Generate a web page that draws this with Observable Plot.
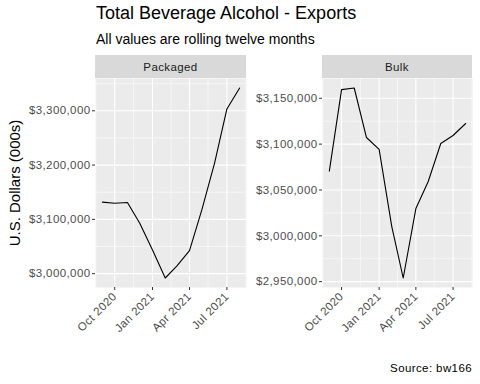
<!DOCTYPE html>
<html>
<head>
<meta charset="utf-8">
<script src="https://cdn.jsdelivr.net/npm/d3@7"></script>
<script src="https://cdn.jsdelivr.net/npm/@observablehq/plot@0.6"></script>
<style>
  html, body { margin: 0; padding: 0; background: #fff; }
  #chart { position: relative; width: 480px; height: 384px; font-family: "Liberation Sans", Arial, sans-serif; overflow: hidden; }
  .abs { position: absolute; white-space: nowrap; line-height: 1; }
  .strip { position: absolute; background: #d9d9d9; color: #1a1a1a; font-size: 11.5px; letter-spacing: 0.4px; display: flex; align-items: center; justify-content: center; }
  svg { overflow: visible; }
</style>
</head>
<body>
<div id="chart"></div>
<script>
// ---- data ----
const months = ["2020-09-01","2020-10-01","2020-11-01","2020-12-01","2021-01-01","2021-02-01",
                "2021-03-01","2021-04-01","2021-05-01","2021-06-01","2021-07-01","2021-08-01"];
const packaged = [3131700, 3129800, 3131000, 3092900, 3043700, 2992000,
                  3014000, 3042500, 3117500, 3203700, 3303400, 3342000];
const bulk = [3070600, 3159400, 3161200, 3107200, 3094200, 3010100,
              2954000, 3029700, 3059000, 3100700, 3109400, 3122500];
const xTicks = ["2020-10-01","2021-01-01","2021-04-01","2021-07-01"];
const xMinor = ["2020-08-16","2020-11-16","2021-02-15","2021-05-16","2021-08-16"];
const packagedTicks = [3000000, 3100000, 3200000, 3300000];
const packagedMinor = [3050000, 3150000, 3250000, 3350000];
const bulkTicks = [2950000, 3000000, 3050000, 3100000, 3150000];
const bulkMinor = [2975000, 3025000, 3075000, 3125000];
const titleText = "Total Beverage Alcohol - Exports";
const subtitleText = "All values are rolling twelve months";
const yLabel = "U.S. Dollars (000s)";
const captionText = "Source: bw166";
const panelNames = ["Packaged", "Bulk"];

// ---- helpers ----
const parse = d3.utcParse("%Y-%m-%d");
const dates = months.map(parse);
function expand([a, b], f = 0.05) { const d = (b - a) * f; return [a - d, b + d]; }
const xExt = d3.extent(dates);
const xDomain = expand([+xExt[0], +xExt[1]]).map(v => new Date(v));

const chart = document.getElementById("chart");
function addText(txt, css) {
  const d = document.createElement("div");
  d.className = "abs"; d.textContent = txt; Object.assign(d.style, css); chart.appendChild(d); return d;
}

addText(titleText, {left: "96px", top: "4px", fontSize: "18px", color: "#000"});
addText(subtitleText, {left: "96px", top: "32px", fontSize: "14px", color: "#000"});
addText(yLabel, {left: "14px", top: "183px", fontSize: "15px", color: "#000", transform: "translate(-50%,-50%) rotate(-90deg)"});
addText(captionText, {right: "8px", top: "363px", fontSize: "11.5px", letterSpacing: "0.4px", color: "#000"});

function panel(name, values, ticks, minor, svgLeft, marginLeft, panelW) {
  const data = dates.map((d, i) => ({date: d, value: values[i]}));
  const yDomain = expand(d3.extent(values));
  const panelH = 209;
  const strip = document.createElement("div");
  strip.className = "strip"; strip.textContent = name;
  Object.assign(strip.style, {left: (svgLeft + marginLeft) + "px", top: "55px", width: panelW + "px", height: "23px"});
  chart.appendChild(strip);
  const p = Plot.plot({
    width: marginLeft + panelW + 10,
    height: panelH + 70,
    marginLeft, marginRight: 10, marginTop: 0, marginBottom: 70,
    style: {fontFamily: "Liberation Sans, Arial, sans-serif", fontSize: "11.5px", letterSpacing: "0.4px", background: "transparent", overflow: "visible"},
    x: {type: "utc", domain: xDomain},
    y: {domain: yDomain, nice: false},
    marks: [
      Plot.frame({fill: "#ebebeb", stroke: null}),
      Plot.ruleY(minor, {stroke: "white", strokeWidth: 0.55}),
      Plot.ruleX(xMinor.map(parse).filter(d => d >= xDomain[0] && d <= xDomain[1]), {stroke: "white", strokeWidth: 0.55}),
      Plot.ruleY(ticks, {stroke: "white", strokeWidth: 1.1}),
      Plot.ruleX(xTicks.map(parse), {stroke: "white", strokeWidth: 1.1}),
      Plot.axisY({ticks, tickFormat: d3.format("$,"), tickSize: 3, tickPadding: 2, stroke: "#333", fill: "#4d4d4d", label: null, fontSize: 11.5}),
      Plot.axisX({ticks: xTicks.map(parse), tickFormat: d3.utcFormat("%b %Y"), tickSize: 3, tickPadding: 4, tickRotate: -45, stroke: "#333", fill: "#4d4d4d", label: null, fontSize: 11.5}),
      Plot.line(data, {x: "date", y: "value", stroke: "black", strokeWidth: 1.1})
    ]
  });
  p.style.position = "absolute";
  p.style.left = svgLeft + "px";
  p.style.top = "78px";
  chart.appendChild(p);
}

panel(panelNames[0], packaged, packagedTicks, packagedMinor, 0, 95, 151);
panel(panelNames[1], bulk, bulkTicks, bulkMinor, 248, 74, 150);
</script>
</body>
</html>
